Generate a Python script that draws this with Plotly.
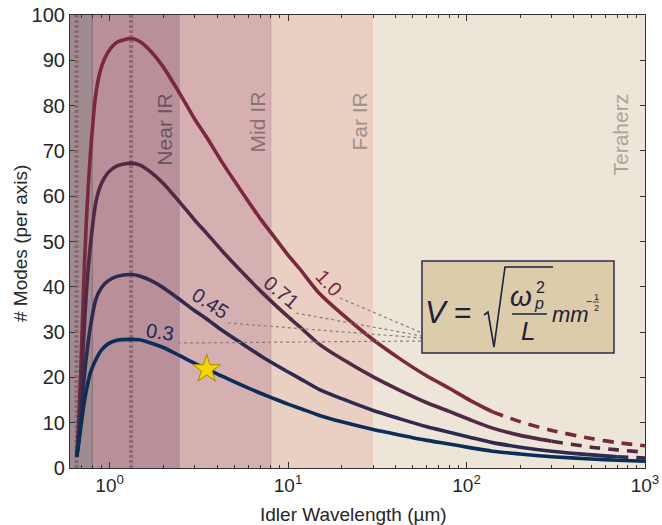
import math
import plotly.graph_objects as go

# ---------------- data ----------------
wavelength_um = [0.655, 0.672, 0.69, 0.715, 0.74, 0.78, 0.84, 0.9, 0.98, 1.1, 1.32, 1.47, 1.7, 2.0,
                 2.47, 3.0, 3.5, 4.3, 5.5, 7.0, 8.0, 10, 11.6, 15, 20, 30, 42, 60, 80, 104, 140,
                 200, 300, 500, 700, 1000]
modes_V100 = [2.5, 11, 22, 40, 54, 69, 83, 88.5, 91.8, 94, 94.8, 94.2, 92, 88.5, 82.7, 77, 73, 67.3,
              61, 55, 52, 47, 44, 38.5, 34, 28.3, 24.2, 20.3, 17.6, 15, 12.4, 10.2, 8.3, 6.5, 5.6, 4.9]
modes_V071 = [2.5, 7.8, 15.6, 28.4, 38.3, 49.0, 58.9, 62.8, 65.2, 66.7, 67.3, 66.9, 65.3, 62.8, 58.7,
              54.7, 51.8, 47.8, 43.3, 39.1, 36.9, 33.4, 31.2, 27.3, 24.1, 20.1, 17.2, 14.4, 12.5,
              10.7, 8.8, 7.2, 5.9, 4.6, 4.0, 3.5]
modes_V045 = [2.5, 6, 11, 18.5, 24.3, 31.1, 37.4, 39.8, 41.3, 42.3, 42.7, 42.4, 41.4, 39.8, 37.2, 34.7,
              32.9, 30.3, 27.5, 24.8, 23.4, 21.2, 19.8, 17.3, 15.3, 12.7, 10.9, 9.1, 7.9, 6.8, 5.6,
              4.6, 3.7, 2.9, 2.5, 2.2]
modes_V030 = [2.5, 5.5, 9, 13.5, 17, 21, 24, 26, 27.4, 28.2, 28.4, 28.3, 27.6, 26.6, 24.8, 23.1, 21.9,
              20.2, 18.3, 16.5, 15.6, 14.1, 13.2, 11.6, 10.2, 8.5, 7.3, 6.1, 5.3, 4.5, 3.7, 3.1,
              2.5, 2.0, 1.7, 1.5]
series_labels = ["1.0", "0.71", "0.45", "0.3"]
dash_start_um = [140, 300, 700, None]     # where each curve turns dashed

band_names = ["", "Near IR", "Mid IR", "Far IR", "Teraherz"]
band_edges_um = [0.6, 0.8, 2.5, 8, 30, 1000]
marker_lines_um = [0.653, 1.32]
star_wavelength = [3.5]
star_modes = [21.8]

x_tickvals = [1, 10, 100, 1000]
x_ticktext = ["10<sup>0</sup>", "10<sup>1</sup>", "10<sup>2</sup>", "10<sup>3</sup>"]
x_minor = [0.6, 0.7, 0.8, 0.9] + [d * m for d in (1, 10, 100) for m in range(2, 10)]

# ---------------- styling ----------------
FONT = "Liberation Sans, Arial, sans-serif"
curve_colors = ["#7b283e", "#532845", "#2f2a50", "#0b2e58"]
band_colors = ["#a08b91", "#b98f99", "#d6afb0", "#e9d0c3", "#ede5d7"]
band_text_colors = ["#000", "#6c5560", "#8a7073", "#a0918a", "#aaa49a"]

W, H = 662, 525
PL, PR, PT, PB = 70, 645, 15, 468          # plot area in window pixels
L, R, T, B = PL, W - PR, PT, H - PB
PW, PH = PR - PL, PB - PT


def P(px, py):
    """window pixel -> paper coords"""
    return (px - PL) / PW, (PB - py) / PH


fig = go.Figure()

# curves
all_modes = [modes_V100, modes_V071, modes_V045, modes_V030]
for modes, col, ds in zip(all_modes, curve_colors, dash_start_um):
    if ds is None:
        k = len(wavelength_um)
    else:
        k = next(i for i, w in enumerate(wavelength_um) if w >= ds)
    fig.add_trace(go.Scatter(x=wavelength_um[:k + 1], y=modes[:k + 1], mode="lines",
                             line=dict(color=col, width=3.6, shape="spline", smoothing=0.7),
                             hoverinfo="skip"))
    if k < len(wavelength_um) - 1:
        fig.add_trace(go.Scatter(x=wavelength_um[k:], y=modes[k:], mode="lines",
                                 line=dict(color=col, width=3.6, dash="11px,8px",
                                           shape="spline", smoothing=0.7),
                                 hoverinfo="skip"))

fig.add_trace(go.Scatter(x=star_wavelength, y=star_modes, mode="markers",
                         marker=dict(symbol="star", size=21, color="#f3d500",
                                     line=dict(color="#a48c00", width=1)),
                         hoverinfo="skip"))

shapes = []
for i in range(len(band_names)):
    shapes.append(dict(type="rect", xref="x", yref="paper", x0=band_edges_um[i], x1=band_edges_um[i + 1],
                       y0=0, y1=1, fillcolor=band_colors[i], line=dict(width=0), layer="below"))
shapes.append(dict(type="line", xref="x", yref="paper", x0=0.8, x1=0.8, y0=0, y1=1,
                   line=dict(color="#806870", width=1), layer="below"))
shapes.append(dict(type="line", xref="x", yref="paper", x0=8, x1=8, y0=0, y1=1,
                   line=dict(color="#c49c9a", width=1), layer="below"))
for xm in marker_lines_um:
    shapes.append(dict(type="line", xref="x", yref="paper", x0=xm, x1=xm, y0=0, y1=1,
                       line=dict(color="rgba(125,95,105,0.75)", width=4, dash="3px,2px"), layer="below"))

# connector dotted lines from curve labels to the formula box
connectors = [((340, 298), (422, 333)), ((296, 313), (422, 336)),
              ((228, 323), (422, 338)), ((178, 343), (422, 341))]
for (a, b) in connectors:
    x0, y0 = P(*a)
    x1, y1 = P(*b)
    shapes.append(dict(type="line", xref="paper", yref="paper", x0=x0, y0=y0, x1=x1, y1=y1,
                       line=dict(color="#8a7c7c", width=1.2, dash="dot"), layer="above"))

# formula box
bx0, by0 = P(422, 353)
bx1, by1 = P(614, 261)
shapes.append(dict(type="rect", xref="paper", yref="paper", x0=bx0, y0=by0, x1=bx1, y1=by1,
                   fillcolor="#dccca9", line=dict(color="#2b2b48", width=1.5), layer="above"))
# radical sign
pts = [P(484, 315), P(488, 312), P(494, 347), P(505, 267), P(553, 267)]
path = "M " + " L ".join(f"{x:.5f},{y:.5f}" for x, y in pts)
shapes.append(dict(type="path", xref="paper", yref="paper", path=path,
                   line=dict(color="#1e2140", width=1.6), layer="above"))
fx0, fy = P(512, 314)
fx1, _ = P(547, 314)
shapes.append(dict(type="line", xref="paper", yref="paper", x0=fx0, x1=fx1, y0=fy, y1=fy,
                   line=dict(color="#1e2140", width=1.5), layer="above"))
hx0, hy = P(593, 302)
hx1, _ = P(599, 302)
shapes.append(dict(type="line", xref="paper", yref="paper", x0=hx0, x1=hx1, y0=hy, y1=hy,
                   line=dict(color="#1e2140", width=0.8), layer="above"))

ann = []
# band labels
band_label_pos = [None, (2.03, 74.8), (6.7, 76.3), (25.2, 76.4), (729, 73.5)]
for name, pos, tc in zip(band_names, band_label_pos, band_text_colors):
    if pos is None:
        continue
    ann.append(dict(x=math.log10(pos[0]), y=pos[1], xref="x", yref="y", text=name, showarrow=False,
                    xanchor="center", yanchor="middle",
                    textangle=-90, font=dict(family=FONT, size=21, color=tc)))

# curve labels
curve_label_pos = [(329, 283, 47), (281, 292, 40), (210, 303, 33), (160, 332, 8)]
for lab, (px, py, ang), col in zip(series_labels, curve_label_pos, curve_colors):
    x, y = P(px, py)
    ann.append(dict(x=x, y=y, xref="paper", yref="paper", text=lab, showarrow=False, textangle=ang,
                    xanchor="center", yanchor="middle",
                    font=dict(family=FONT, size=20, color=col)))

# formula text
ftxt = "#1e2140"
def fa(txt, px, py, size, italic=True):
    x, y = P(px, py)
    t = f"<i>{txt}</i>" if italic else txt
    ann.append(dict(x=x, y=y, xref="paper", yref="paper", text=t, showarrow=False,
                    xanchor="center", yanchor="middle",
                    font=dict(family=FONT, size=size, color=ftxt)))

fa("V", 437, 312, 31)
fa("=", 463, 312, 30, italic=False)
fa("ω", 521, 296, 28)
fa("2", 540, 287, 16, italic=False)
fa("p", 539, 304, 16)
fa("L", 528, 331, 26)
fa("mm", 570, 314, 22)
fa("−", 589, 301, 11, italic=False)
fa("1", 596, 297, 9, italic=False)
fa("2", 596, 308, 9, italic=False)

# axis titles
x, y = P(353, 514)
ann.append(dict(x=x, y=y, xref="paper", yref="paper", text="Idler Wavelength (µm)", showarrow=False,
                xanchor="center", yanchor="middle",
                font=dict(family=FONT, size=19, color="#262626")))
x, y = P(21, 244)
ann.append(dict(x=x, y=y, xref="paper", yref="paper", text="# Modes (per axis)", showarrow=False,
                xanchor="center", yanchor="middle",
                textangle=-90, font=dict(family=FONT, size=19, color="#262626")))

fig.update_layout(
    width=W, height=H, margin=dict(l=L, r=R, t=T, b=B),
    plot_bgcolor="white", paper_bgcolor="white", showlegend=False,
    font=dict(family=FONT, size=20, color="#262626"),
    shapes=shapes, annotations=ann,
    xaxis=dict(type="log", range=[math.log10(0.6), 3], tickvals=x_tickvals, ticktext=x_ticktext,
               ticks="inside", ticklen=6, tickcolor="#333", mirror="allticks", showline=True,
               linecolor="#333", linewidth=1.2, showgrid=False, zeroline=False, automargin=False,
               tickfont=dict(size=19), ticklabeloverflow="allow",
               minor=dict(tickvals=x_minor, ticks="inside", ticklen=3, tickcolor="#333", showgrid=False)),
    yaxis=dict(range=[0, 100], dtick=10, ticks="inside", ticklen=5, tickcolor="#333",
               mirror="allticks", showline=True, linecolor="#333", linewidth=1.2, showgrid=False,
               zeroline=False, automargin=False, tickfont=dict(size=20), ticklabeloverflow="allow"),
)

# remove the page's default body margin so the 662x525 figure fills the window exactly
fig.write_html("out.html", config={"displayModeBar": False},
               post_script="document.body.style.margin='0px';document.body.style.overflow='hidden';")
